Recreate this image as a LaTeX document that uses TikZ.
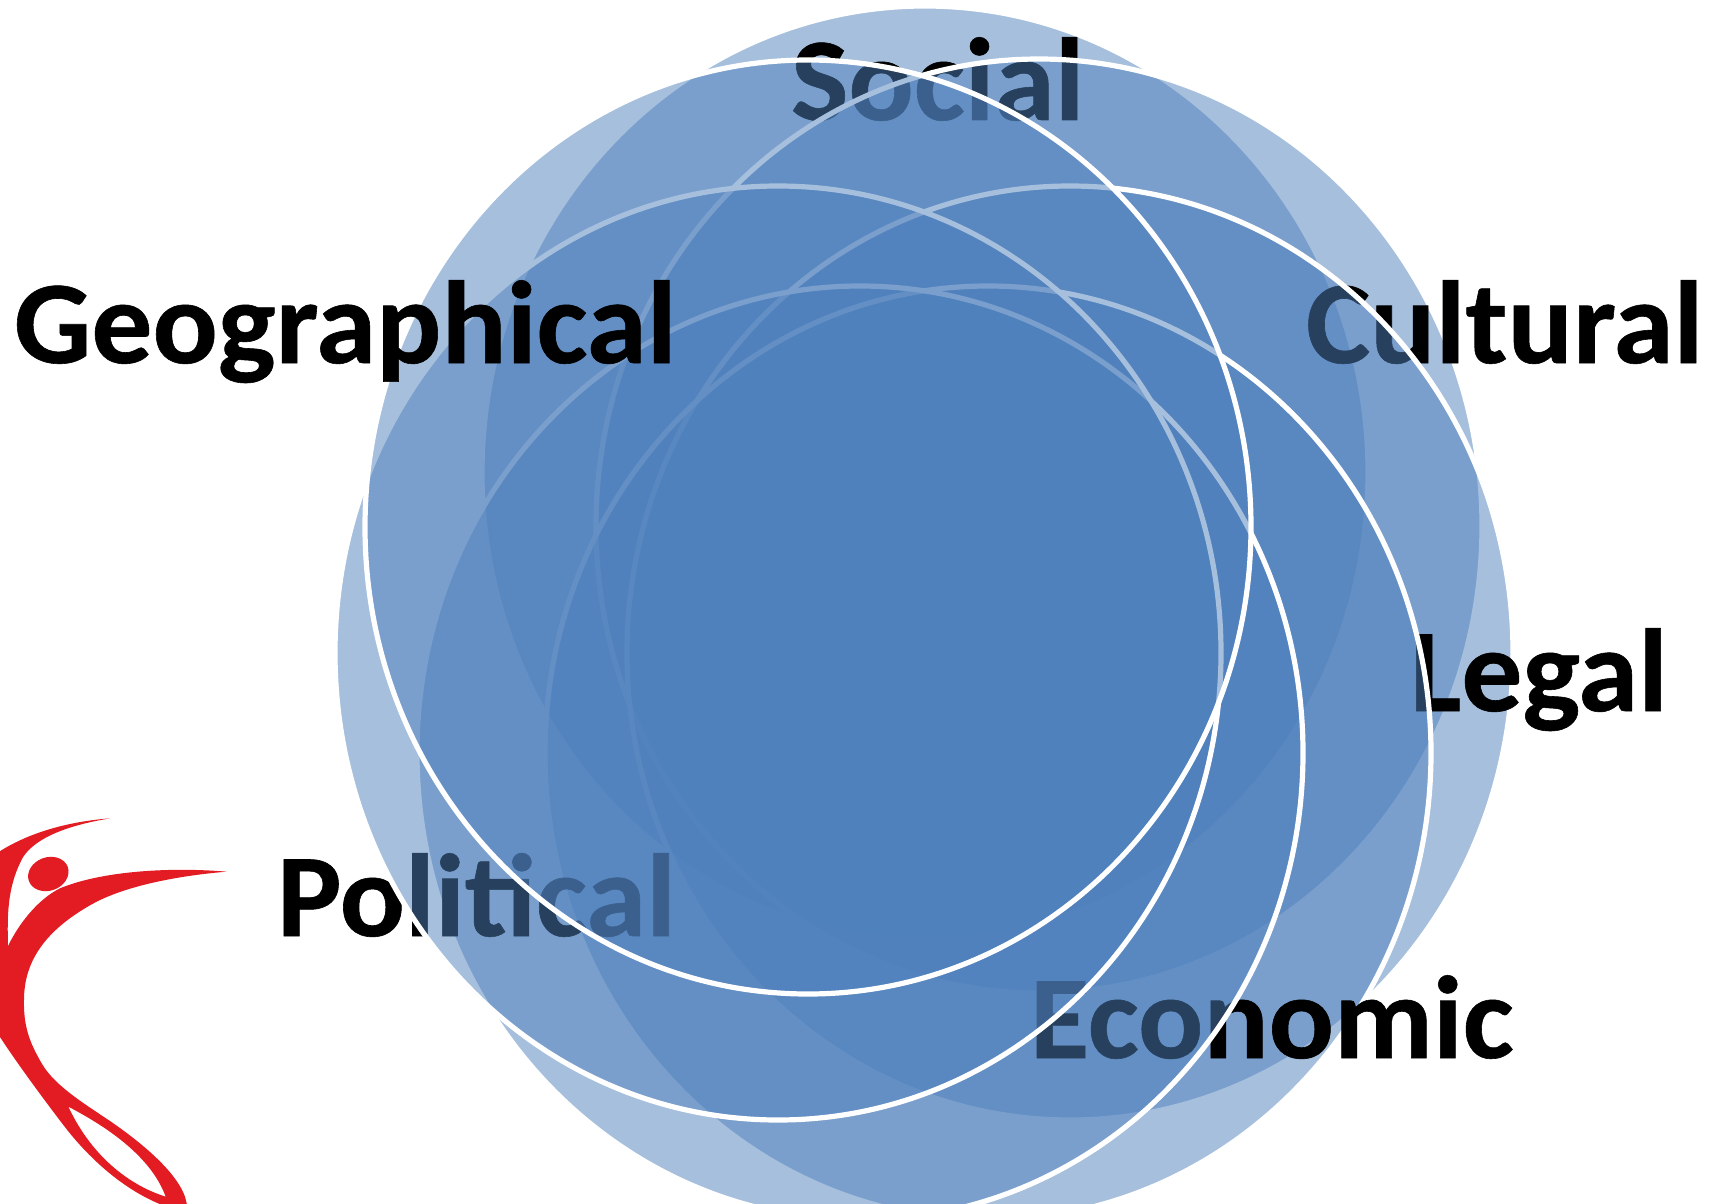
\documentclass[tikz,border=0pt]{standalone}
\usepackage{fontspec}
\setmainfont{Carlito}
\newfontfamily\lblfont[FakeStretch=1.03,FakeBold=0.5]{Carlito}
\definecolor{venn}{HTML}{4F81BD}
\definecolor{logored}{HTML}{E31B23}
\tikzset{
  vennring/.style={draw=white,line width=5.2pt,fill=venn,fill opacity=.5,draw opacity=1},
  lbl/.style={anchor=base west,inner sep=0pt,outer sep=0pt,font=\lblfont\fontsize{118}{118}\selectfont\bfseries,text=black},
}
\newcommand{\vring}[2]{\path[vennring] (#1,#2) ellipse [x radius=443pt,y radius=467pt];}
\begin{document}
\begin{tikzpicture}[x=1pt,y=-1pt]
\useasboundingbox (0,0) rectangle (1716,1204);
\clip (0,0) rectangle (1716,1204);
\fill[white] (0,0) rectangle (1716,1204);
% rings and labels interleave, bottom to top
\vring{925}{473}
\node[lbl] (social) at (791,120) {Social};
\vring{1039}{526}
\node[lbl] (cultural) at (1306,363) {Cultural};
\vring{1070}{653}
\node[lbl] (legal) at (1410,711) {Legal};
\vring{988}{753}
\node[lbl] (economic) at (1030,1058) {Economic};
\vring{860}{753}
\node[lbl] (political) at (277,936) {Political};
\vring{778}{653}
\vring{808}{527}
\node[lbl] (geo) at (14,363) {Geographical};
% logo
\begin{scope}[shift={(0,800)},x=0.3333pt,y=-0.3333pt]
\fill[logored,even odd rule]
  (330,55) .. controls (200,65) and (80,100) .. (-10,160)
  -- (-20,680)
  .. controls (30,760) and (110,870) .. (190,975)
  .. controls (270,1080) and (390,1190) .. (530,1230)
  -- (565,1230) -- (555,1190)
  .. controls (530,1120) and (440,1040) .. (340,970)
  .. controls (260,915) and (165,860) .. (125,790)
  .. controls (90,730) and (70,680) .. (72,600)
  .. controls (72,480) and (140,385) .. (290,305)
  .. controls (400,250) and (560,225) .. (680,215)
  .. controls (500,200) and (300,215) .. (180,265)
  .. controls (110,300) and (55,375) .. (24,438)
  .. controls (22,350) and (20,260) .. (70,170)
  .. controls (110,110) and (210,75) .. (330,55)
  -- cycle
  (205,920) .. controls (300,970) and (450,1060) .. (497,1190)
  .. controls (400,1160) and (280,1080) .. (205,920) -- cycle;
\fill[logored] (145,222) ellipse [x radius=62,y radius=50,rotate=20];
\end{scope}
\end{tikzpicture}
\end{document}
